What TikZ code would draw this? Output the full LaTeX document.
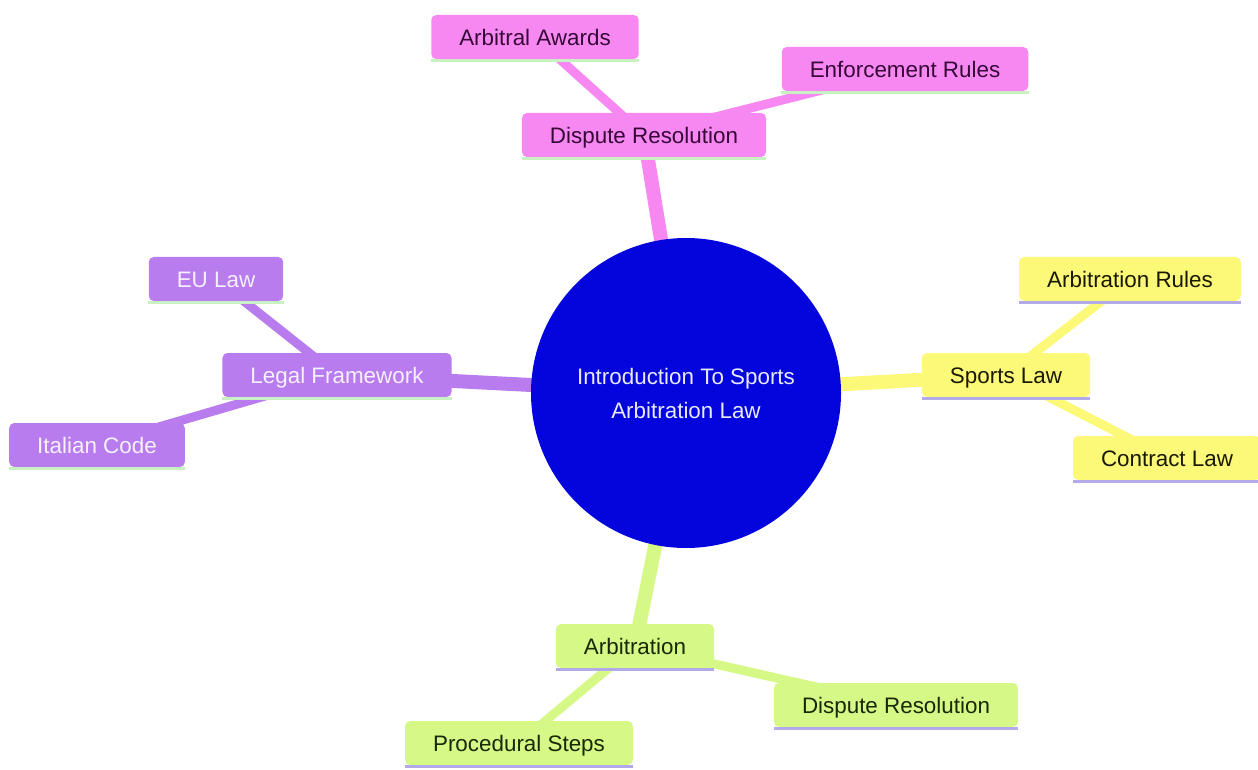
\documentclass[tikz,border=0pt]{standalone}
\usepackage{fontspec}
\setmainfont{Liberation Sans}
\usepackage{tikz}
\usetikzlibrary{shapes, backgrounds}

\definecolor{rootblue}{RGB}{4,4,220}
\definecolor{roottext}{RGB}{232,232,255}
\definecolor{pinkfill}{RGB}{247,136,242}
\definecolor{pinktext}{RGB}{55,8,55}
\definecolor{purplefill}{RGB}{184,124,238}
\definecolor{purpletext}{RGB}{246,240,255}
\definecolor{yellowfill}{RGB}{252,248,120}
\definecolor{yellowtext}{RGB}{25,25,0}
\definecolor{greenfill}{RGB}{214,248,134}
\definecolor{greentext}{RGB}{25,40,5}
\definecolor{ulgreen}{RGB}{200,240,195}
\definecolor{ullilac}{RGB}{178,170,232}

\begin{document}
\begin{tikzpicture}[x=0.5pt, y=-0.5pt, font=\fontsize{11.2}{17}\selectfont]
\tikzstyle{box} = [rectangle, rounded corners=2.5pt, minimum height=22pt, inner xsep=14pt, inner ysep=0pt, text height=9.5pt, text depth=1pt]
\tikzstyle{pinkbox} = [box, fill=pinkfill, text=pinktext]
\tikzstyle{purplebox} = [box, fill=purplefill, text=purpletext]
\tikzstyle{yellowbox} = [box, fill=yellowfill, text=yellowtext]
\tikzstyle{greenbox} = [box, fill=greenfill, text=greentext]
\tikzstyle{trunk} = [line width=7pt]
\tikzstyle{twig} = [line width=4.5pt]
\tikzstyle{underline} = [line width=1.5pt]

\useasboundingbox (0,0) rectangle (1258,770);

    \node [circle, fill=rootblue, text=roottext, minimum size=155pt, align=center] (root) at (686,393) {Introduction To Sports\\Arbitration Law};

    % top branch
    \node [pinkbox] (dispute_top) at (644,135) {Dispute Resolution};
    \node [pinkbox] (arbitral_awards) at (535,37) {Arbitral Awards};
    \node [pinkbox] (enforcement_rules) at (905,69) {Enforcement Rules};

    % left branch
    \node [purplebox] (legal_framework) at (337,375) {Legal Framework};
    \node [purplebox] (eu_law) at (216,279) {EU Law};
    \node [purplebox] (italian_code) at (97,445) {Italian Code};

    % right branch
    \node [yellowbox] (sports_law) at (1006,375) {Sports Law};
    \node [yellowbox] (arbitration_rules) at (1130,279) {Arbitration Rules};
    \node [yellowbox] (contract_law) at (1167,458) {Contract Law};

    % bottom branch
    \node [greenbox] (arbitration) at (635,646) {Arbitration};
    \node [greenbox] (dispute_bottom) at (896,705) {Dispute Resolution};
    \node [greenbox] (procedural_steps) at (519,743) {Procedural Steps};

    \foreach \n/\c in {dispute_top/ulgreen, arbitral_awards/ulgreen, enforcement_rules/ulgreen,
        legal_framework/ulgreen, eu_law/ulgreen, italian_code/ulgreen,
        sports_law/ullilac, arbitration_rules/ullilac, contract_law/ullilac,
        arbitration/ullilac, dispute_bottom/ullilac, procedural_steps/ullilac}
        \draw [underline, \c] ([yshift=-0.75pt]\n.south west) -- ([yshift=-0.75pt]\n.south east);

    % connectors go behind the nodes
    \begin{scope}[on background layer]
    \draw [trunk, pinkfill] (root.center) -- (dispute_top.center);
    \draw [twig, pinkfill] (dispute_top.center) -- (arbitral_awards.center);
    \draw [twig, pinkfill] (dispute_top.center) -- (enforcement_rules.center);
    \draw [trunk, purplefill] (root.center) -- (legal_framework.center);
    \draw [twig, purplefill] (legal_framework.center) -- (eu_law.center);
    \draw [twig, purplefill] (legal_framework.center) -- (italian_code.center);
    \draw [trunk, yellowfill] (root.center) -- (sports_law.center);
    \draw [twig, yellowfill] (sports_law.center) -- (arbitration_rules.center);
    \draw [twig, yellowfill] (sports_law.center) -- (contract_law.center);
    \draw [trunk, greenfill] (root.center) -- (arbitration.center);
    \draw [twig, greenfill] (arbitration.center) -- (dispute_bottom.center);
    \draw [twig, greenfill] (arbitration.center) -- (procedural_steps.center);
    \end{scope}

\end{tikzpicture}
\end{document}
